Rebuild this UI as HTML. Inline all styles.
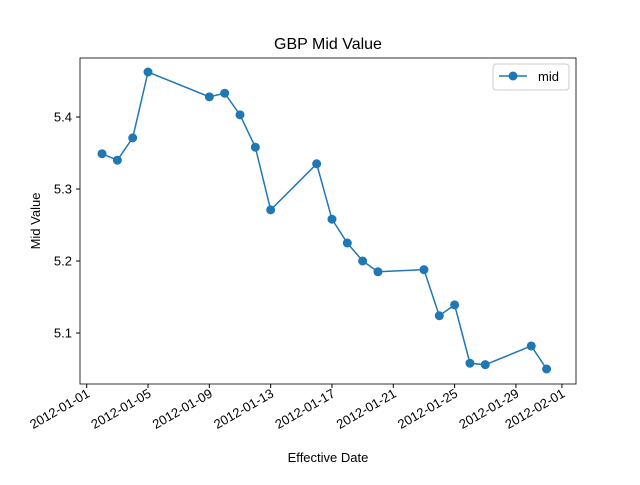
<!DOCTYPE html>
<html><head><meta charset="utf-8"><style>
body{margin:0;background:#fff}
svg{font-family:"Liberation Sans","DejaVu Sans",sans-serif}
</style></head><body>
<svg id="chart" width="640" height="480" xmlns="http://www.w3.org/2000/svg">
<rect width="640" height="480" fill="#fff"/>
<text x="328" y="49" font-size="16" text-anchor="middle">GBP Mid Value</text>
<g id="xt"></g><g id="yt"></g>
<polyline id="line" fill="none" stroke="#1f77b4" stroke-width="1.5"/>
<g id="pts"></g>
<rect x="80" y="58" width="496" height="326" fill="none" stroke="#000" stroke-width="0.8"/>
<text x="328" y="462" font-size="13" text-anchor="middle">Effective Date</text>
<text transform="translate(40,221) rotate(-90)" font-size="13" text-anchor="middle">Mid Value</text>
<g>
<rect x="493" y="64" width="76" height="26" rx="3" fill="#fff" stroke="#ccc"/>
<line x1="499" y1="76" x2="527" y2="76" stroke="#1f77b4" stroke-width="1.5"/>
<circle cx="513" cy="76" r="4.5" fill="#1f77b4"/>
<text x="538" y="81" font-size="13">mid</text>
</g>
</svg>
<script>
const days=[2,3,4,5,9,10,11,12,13,16,17,18,19,20,23,24,25,26,27,30,31];
const mids=[5.349,5.340,5.371,5.4625,5.428,5.433,5.403,5.358,5.271,5.335,5.258,5.225,5.200,5.185,5.188,5.124,5.139,5.058,5.056,5.082,5.050];
const xTickLabels=["2012-01-01","2012-01-05","2012-01-09","2012-01-13","2012-01-17","2012-01-21","2012-01-25","2012-01-29","2012-02-01"];
const xTickDays=[1,5,9,13,17,21,25,29,32];
const yTicks=[5.1,5.2,5.3,5.4];
const NS="http://www.w3.org/2000/svg";
const X=d=>86.7+(d-1)*15.33;
const Y=v=>117+(5.4-v)*720;
const xt=document.getElementById('xt'),yt=document.getElementById('yt'),pts=document.getElementById('pts');
xTickDays.forEach((d,i)=>{
 const l=document.createElementNS(NS,'line');
 l.setAttribute('x1',X(d));l.setAttribute('x2',X(d));l.setAttribute('y1',384);l.setAttribute('y2',388);l.setAttribute('stroke','#000');
 
 
 xt.appendChild(l);
 const t=document.createElementNS(NS,'text');
 t.setAttribute('transform',`translate(${X(d)+4},${396}) rotate(-30)`);
 t.setAttribute('text-anchor','end');t.setAttribute('font-size','13');t.textContent=xTickLabels[i];
 
 
 xt.appendChild(t);
});
yTicks.forEach(v=>{
 const l=document.createElementNS(NS,'line');
 l.setAttribute('x1',76);l.setAttribute('x2',80);l.setAttribute('y1',Y(v));l.setAttribute('y2',Y(v));l.setAttribute('stroke','#000');
 
 
 yt.appendChild(l);
 const t=document.createElementNS(NS,'text');
 t.setAttribute('x',72);t.setAttribute('y',Y(v)+4.5);t.setAttribute('text-anchor','end');t.setAttribute('font-size','13');
 t.textContent=v.toFixed(1);
 
 
 yt.appendChild(t);
});
document.getElementById('line').setAttribute('points',days.map((d,i)=>X(d)+','+Y(mids[i])).join(' '));
days.forEach((d,i)=>{
 const c=document.createElementNS(NS,'circle');
 c.setAttribute('cx',X(d));c.setAttribute('cy',Y(mids[i]));c.setAttribute('r',4.5);c.setAttribute('fill','#1f77b4');
 
 
 pts.appendChild(c);
});
</script>
</body></html>
